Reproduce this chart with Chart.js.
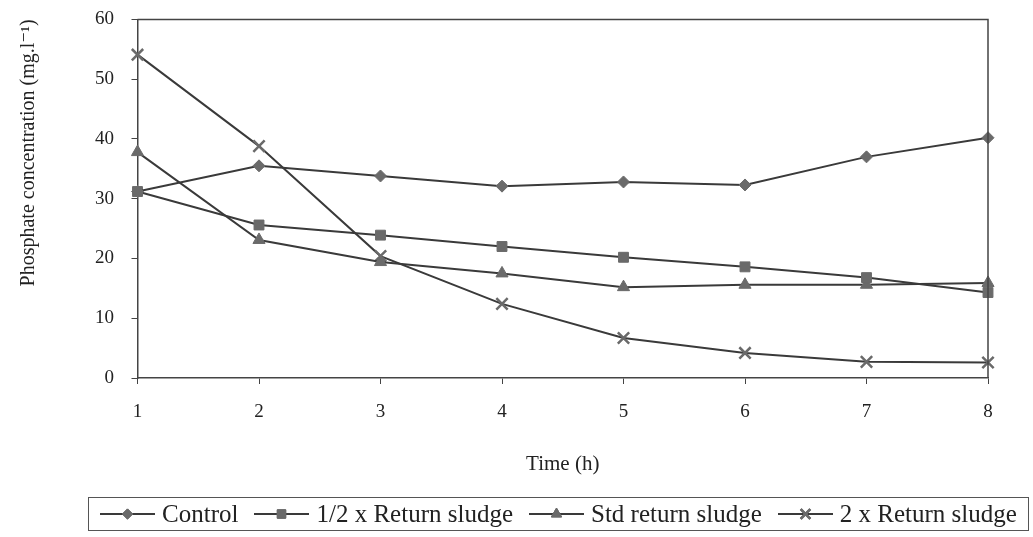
<!DOCTYPE html>
<html>
<head>
<meta charset="utf-8">
<script src="https://cdn.jsdelivr.net/npm/chart.js@4.4.1/dist/chart.umd.min.js"></script>
<style>
  html, body { margin: 0; padding: 0; background: #fff; }
  #wrap { width: 1033px; height: 537px; position: relative; }
  #legend {
    position: absolute; left: 88px; top: 497px; width: 941px; height: 34px;
    border: 1px solid #555; box-sizing: border-box;
    display: flex; align-items: center; justify-content: center; white-space: nowrap;
    font-family: "Liberation Serif", "DejaVu Serif", serif; font-size: 25px; color: #222;
  }
  #legend .item { display: flex; align-items: center; margin: 0 8px; flex-shrink: 0; }
  #legend canvas { margin-right: 7px; }
</style>
</head>
<body>
<div id="wrap">
  <canvas id="chart" width="1033" height="537"></canvas>
  <div id="legend"></div>
</div>
<script>
// Data
const hours = ['1', '2', '3', '4', '5', '6', '7', '8'];
const seriesNames = ['Control', '1/2 x Return sludge', 'Std return sludge', '2 x Return sludge'];
const control = [31.2, 35.5, 33.8, 32.1, 32.8, 32.3, 37.0, 40.2];
const halfSludge = [31.2, 25.6, 23.9, 22.0, 20.2, 18.6, 16.8, 14.3];
const stdSludge = [37.8, 23.1, 19.4, 17.5, 15.2, 15.6, 15.6, 15.9];
const doubleSludge = [54.1, 38.8, 20.4, 12.4, 6.7, 4.2, 2.7, 2.6];
const yTicks = [0, 10, 20, 30, 40, 50, 60];

const lineColor = '#3a3a3a';
const markColor = '#6a6a6a';
const serif = '"Liberation Serif", "DejaVu Serif", serif';
const markers = ['rectRot', 'rect', 'triangle', 'crossRot'];
const radii = [6, 7, 7, 8];

// legend symbol: short line with the marker in the middle
function legendSymbol(style, r) {
    const c = document.createElement('canvas');
    c.width = 55; c.height = 18;
    const g = c.getContext('2d');
    g.strokeStyle = lineColor;
    g.lineWidth = 2;
    g.beginPath(); g.moveTo(0, 9); g.lineTo(55, 9); g.stroke();
    g.fillStyle = markColor; g.strokeStyle = markColor;
    g.lineWidth = style === 'crossRot' ? 2.5 : 1;
    g.beginPath();
    Chart.helpers.drawPoint(g, {pointStyle: style, radius: r * 0.85, borderWidth: g.lineWidth, rotation: 0}, 27.5, 9);
    g.fill(); g.stroke();
    return c;
}

// html legend in a box, like the original
const legendDiv = document.getElementById('legend');
seriesNames.forEach((name, i) => {
    const item = document.createElement('div');
    item.className = 'item';
    item.appendChild(legendSymbol(markers[i], radii[i]));
    const span = document.createElement('span');
    span.textContent = name;
    item.appendChild(span);
    legendDiv.appendChild(item);
});

const plotBox = {
    id: 'plotBox',
    afterDraw(chart) {
        const a = chart.chartArea, g = chart.ctx;
        g.save();
        g.strokeStyle = '#444';
        g.lineWidth = 1.5;
        g.beginPath();
        g.moveTo(a.left, a.top); g.lineTo(a.right, a.top); g.lineTo(a.right, a.bottom);
        g.stroke();
        g.restore();
    }
};

const allData = [control, halfSludge, stdSludge, doubleSludge];
const datasets = allData.map((d, i) => ({
    label: seriesNames[i],
    data: d,
    borderColor: lineColor,
    borderWidth: 2,
    backgroundColor: markColor,
    pointStyle: markers[i],
    pointRadius: radii[i],
    pointBackgroundColor: markColor,
    pointBorderColor: markColor,
    pointBorderWidth: i === 3 ? 2.5 : 1,
    tension: 0
}));

new Chart(document.getElementById('chart'), {
    type: 'line',
    data: { labels: hours, datasets: datasets },
    options: {
        responsive: false,
        animation: false,
        layout: { padding: { left: 13, right: 45, top: 2, bottom: 60 } },
        plugins: {
            tooltip: { enabled: false },
            legend: { display: false }
        },
        scales: {
            x: {
                offset: false,
                grid: { display: true, drawOnChartArea: false, drawTicks: true, tickLength: 6, color: '#444' },
                border: { display: true, color: '#444', width: 1.5 },
                // tick padding counts twice in the axis height, so the title padding takes it back
                ticks: { font: { family: serif, size: 19 }, color: '#222', padding: 17 },
                title: { display: true, text: 'Time (h)', font: { family: serif, size: 21 }, color: '#222', padding: { top: 11, bottom: 0 } }
            },
            y: {
                min: 0, max: 60,
                afterBuildTicks(axis) { axis.ticks = yTicks.map(v => ({ value: v })); },
                grid: { display: true, drawOnChartArea: false, drawTicks: true, tickLength: 6, color: '#444' },
                border: { display: true, color: '#444', width: 1.5 },
                // en space keeps the labels clear of the axis without a big tick padding
                ticks: { font: { family: serif, size: 19 }, color: '#222', padding: 8, callback: v => v + '\u2002' },
                title: { display: true, text: 'Phosphate concentration (mg.l\u207B\u00B9)', align: 'end', font: { family: serif, size: 20 }, color: '#222', padding: { bottom: 46 } }
            }
        }
    },
    plugins: [plotBox]
});
</script>
</body>
</html>
